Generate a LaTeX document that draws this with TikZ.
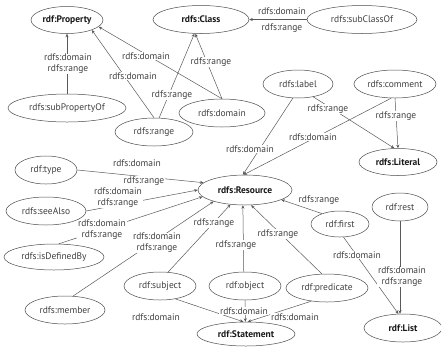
\documentclass[tikz,border=0pt]{standalone}
\usepackage{fontspec}
\setmainfont{PT Sans}
\usetikzlibrary{shapes.geometric,arrows.meta}
\begin{document}
\begin{tikzpicture}[x=1pt,y=-1pt,
  every node/.style={font=\fontsize{9.5}{11}\selectfont, text=black!75},
  el/.style={ellipse, draw=black!70, line width=0.5pt, fill=white, inner sep=0pt},
  bel/.style={el, font=\fontsize{9.5}{11}\selectfont\bfseries, text=black!90},
  lbl/.style={fill=white, inner sep=0.6pt, align=center},
  arr/.style={draw=black!65, line width=0.5pt, -{Stealth[length=3.5pt,width=3pt]}}
]
\useasboundingbox (0,0) rectangle (441,346);

% nodes
\node[bel, minimum width=72pt, minimum height=27pt] (Property) at (67,20) {rdf:Property};
\node[bel, minimum width=96pt, minimum height=28pt] (Class) at (201,19.5) {rdfs:Class};
\node[el, minimum width=110pt, minimum height=28pt] (subClassOf) at (362,19.5) {rdfs:subClassOf};
\node[el, minimum width=118pt, minimum height=28pt] (subPropertyOf) at (67,108) {rdfs:subPropertyOf};
\node[el, minimum width=78pt, minimum height=28pt] (rangeN) at (154,132) {rdfs:range};
\node[el, minimum width=86pt, minimum height=28pt] (domainN) at (222,113) {rdfs:domain};
\node[el, minimum width=70pt, minimum height=28pt] (label) at (298,84) {rdfs:label};
\node[el, minimum width=82pt, minimum height=28pt] (comment) at (395,84) {rdfs:comment};
\node[bel, minimum width=78pt, minimum height=27pt] (Literal) at (398,162) {rdfs:Literal};
\node[el, minimum width=62pt, minimum height=28pt] (type) at (46,170) {rdf:type};
\node[bel, minimum width=94pt, minimum height=30pt] (Resource) at (245,190) {rdfs:Resource};
\node[el, minimum width=80pt, minimum height=28pt] (seeAlso) at (46,211) {rdfs:seeAlso};
\node[el, minimum width=100pt, minimum height=26pt] (isDefinedBy) at (54,257) {rdfs:isDefinedBy};
\node[el, minimum width=58pt, minimum height=26pt] (first) at (340,224) {rdf:first};
\node[el, minimum width=56pt, minimum height=28pt] (rest) at (400,207) {rdf:rest};
\node[el, minimum width=80pt, minimum height=28pt] (member) at (65,310) {rdfs:member};
\node[el, minimum width=72pt, minimum height=28pt] (subject) at (160,286) {rdf:subject};
\node[el, minimum width=72pt, minimum height=28pt] (object) at (245,286) {rdf:object};
\node[el, minimum width=82pt, minimum height=28pt] (predicate) at (327,288) {rdf:predicate};
\node[bel, minimum width=98pt, minimum height=24pt] (Statement) at (246,334) {rdf:Statement};
\node[bel, minimum width=78pt, minimum height=28pt] (List) at (403,328) {rdf:List};

% connectors
\draw[arr] (subPropertyOf.north) -- (Property.south);
\draw[arr] (domainN.north) -- (Property.348);
\draw[arr] (rangeN.north) -- (Property.338);
\draw[arr] (subClassOf.west) -- (Class.east);
\draw[arr] (rangeN.70) -- (Class.245);
\draw[arr] (domainN.north) -- (Class.248);
\draw[arr] (label.250) -- (Resource.98);
\draw[arr] (comment.255) -- (Resource.95);
\draw[arr] (label.320) -- (Literal.105);
\draw[arr] (comment.south) -- (Literal.north);
\draw[arr] (type.east) -- (Resource.170);
\draw[arr] (seeAlso.east) -- (Resource.180);
\draw[arr] (isDefinedBy.70) -- (Resource.189);
\draw[arr] (member.60) -- (Resource.200);
\draw[arr] (subject.60) -- (Resource.225);
\draw[arr] (object.95) -- (Resource.262);
\draw[arr] (predicate.110) -- (Resource.292);
\draw[arr] (first.150) -- (Resource.345);
\draw[arr] (first.285) -- (List.108);
\draw[arr] (rest.south) -- (rest.south |- List.north);
\draw[arr] (subject.320) -- (Statement.102);
\draw[arr] (object.south) -- (Statement.93);
\draw[arr] (predicate.220) -- (Statement.82);

% labels
\node[lbl] (l1) at (68,64) {rdfs:domain\\rdfs:range};
\node[lbl] (l2) at (146,56) {rdfs:domain};
\node[lbl] (l3) at (133,76) {rdfs:domain};
\node[lbl] (l4a) at (282,11) {rdfs:domain};
\node[lbl] (l4b) at (282,28) {rdfs:range};
\node[lbl] (l5) at (172,95) {rdfs:range};
\node[lbl] (l6) at (211,62) {rdfs:range};
\node[lbl] (l7) at (250,149) {rdfs:domain};
\node[lbl] (l8) at (313,137) {rdfs:domain};
\node[lbl] (l9) at (328,109) {rdfs:range};
\node[lbl] (l10) at (396,116) {rdfs:range};
\node[lbl] (l11a) at (137,163) {rdfs:domain};
\node[lbl] (l11b) at (144,181) {rdfs:range};
\node[lbl] (l12) at (118,198) {rdfs:domain\\rdfs:range};
\node[lbl] (l13) at (102,230) {rdfs:domain\\rdfs:range};
\node[lbl] (l14) at (157,243) {rdfs:domain\\rdfs:range};
\node[lbl] (l15) at (214,223) {rdfs:range};
\node[lbl] (l16) at (236,245) {rdfs:range};
\node[lbl] (l17) at (278,234) {rdfs:range};
\node[lbl] (l18) at (319,200) {rdfs:range};
\node[lbl] (l19) at (357,255) {rdfs:domain};
\node[lbl] (l20) at (402,277) {rdfs:domain\\rdfs:range};
\node[lbl] (l21) at (156,317) {rdfs:domain};
\node[lbl] (l22) at (244,311) {rdfs:domain};
\node[lbl] (l23) at (295,317) {rdfs:domain};
\end{tikzpicture}
\end{document}
